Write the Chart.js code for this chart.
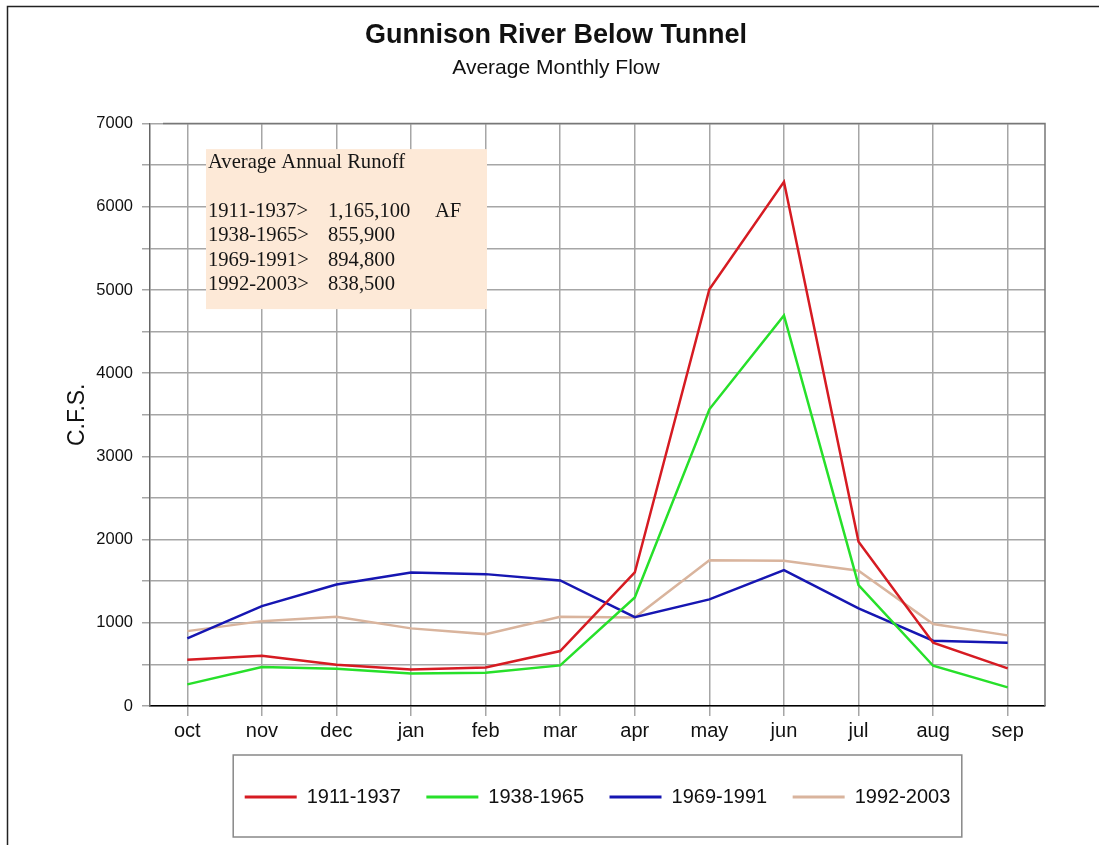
<!DOCTYPE html>
<html>
<head>
<meta charset="utf-8">
<title>Gunnison River Below Tunnel</title>
<script src="https://cdn.jsdelivr.net/npm/chart.js@4.4.1/dist/chart.umd.min.js"></script>
<style>
    html, body { margin: 0; padding: 0; background: #fff; }
    canvas { display: block; }
</style>
</head>
<body>
<canvas id="flowChart" width="1099" height="845"></canvas>
<script>
const MONTHS = ['oct', 'nov', 'dec', 'jan', 'feb', 'mar', 'apr', 'may', 'jun', 'jul', 'aug', 'sep'];

// average monthly flow, c.f.s.
const FLOW_1911_1937 = [556, 604, 496, 440, 464, 660, 1605, 5010, 6300, 1973, 760, 452];
const FLOW_1938_1965 = [260, 468, 448, 392, 400, 488, 1305, 3566, 4694, 1453, 484, 224];
const FLOW_1969_1991 = [813, 1200, 1461, 1605, 1585, 1509, 1068, 1281, 1633, 1173, 784, 760];
const FLOW_1992_2003 = [900, 1020, 1072, 933, 864, 1072, 1065, 1753, 1745, 1625, 985, 849];

const PERIODS = ['1911-1937', '1938-1965', '1969-1991', '1992-2003'];
const COLORS = ['#d61b22', '#27e02a', '#1616b2', '#d9b49d'];

// text box: average annual runoff
const RUNOFF_HEADING = 'Average Annual Runoff';
const RUNOFF_VALUES = ['1,165,100', '855,900', '894,800', '838,500'];
const RUNOFF_UNIT = 'AF';

const SANS = 'Arial, "Liberation Sans", sans-serif';
const SERIF = '"Times New Roman", "Liberation Serif", serif';

// peach box with the runoff figures, drawn under the lines
const runoffBox = {
    id: 'runoffBox',
    beforeDatasetsDraw(chart) {
        const { ctx, chartArea: a } = chart;
        const x = a.left + 56, y = a.top + 25.5;
        ctx.save();
        ctx.fillStyle = '#fde9d7';
        ctx.fillRect(x, y, 281, 160);
        ctx.fillStyle = '#151515';
        ctx.font = '20.6px ' + SERIF;
        ctx.textBaseline = 'middle';
        ctx.fillText(RUNOFF_HEADING, x + 2, y + 13.5);
        PERIODS.forEach((p, i) => {
            const ty = y + 62.5 + i * 24.4;
            ctx.fillText(p + '>', x + 2, ty);
            ctx.fillText(RUNOFF_VALUES[i], x + 122, ty);
        });
        ctx.fillText(RUNOFF_UNIT, x + 229, y + 62.5);
        ctx.restore();
    }
};

// top/right plot frame, legend box and outer border
const frame = {
    id: 'frame',
    afterLayout(chart) {
        // centre the legend under the plot area
        const lg = chart.legend;
        lg.left = chart.chartArea.left;
        lg.right = chart.chartArea.right;
    },
    afterDraw(chart) {
        const { ctx, chartArea: a, legend: lg } = chart;
        ctx.save();
        ctx.strokeStyle = '#777';
        ctx.lineWidth = 1.5;
        ctx.beginPath();
        ctx.moveTo(a.left + 13, a.top);
        ctx.lineTo(a.right, a.top);
        ctx.lineTo(a.right, a.bottom);
        ctx.stroke();

        const pad = lg.options.labels.padding;
        const rowW = lg.lineWidths[0];
        const start = (lg.left + pad + lg.right - rowW) / 2;
        const end = start + rowW - pad;
        const cy = lg.top + pad + 10;
        ctx.strokeStyle = '#888';
        ctx.strokeRect(start - 11.5, cy - 42, end - start + 23, 82);

        ctx.strokeStyle = '#222';
        ctx.beginPath();
        ctx.moveTo(7.5, chart.height);
        ctx.lineTo(7.5, 6.5);
        ctx.lineTo(chart.width, 6.5);
        ctx.stroke();
        ctx.restore();
    }
};

const series = [FLOW_1911_1937, FLOW_1938_1965, FLOW_1969_1991, FLOW_1992_2003];

new Chart(document.getElementById('flowChart'), {
    type: 'line',
    data: {
        labels: MONTHS,
        datasets: series.map((values, i) => ({
            label: PERIODS[i],
            data: values,
            borderColor: COLORS[i],
            backgroundColor: COLORS[i],
            borderWidth: 2.5,
            tension: 0,
            pointRadius: 0,
            fill: false
        }))
    },
    options: {
        responsive: false,
        animation: false,
        layout: { padding: { left: 67, right: 54, top: 0, bottom: 28 } },
        plugins: {
            title: {
                display: true,
                text: 'Gunnison River Below Tunnel',
                color: '#111',
                font: { family: SANS, size: 27, weight: 'bold' },
                padding: { top: 19.8, bottom: 0 }
            },
            subtitle: {
                display: true,
                text: 'Average Monthly Flow',
                color: '#111',
                font: { family: SANS, size: 21 },
                padding: { top: 3.8, bottom: 42.4 }
            },
            legend: {
                position: 'bottom',
                labels: {
                    color: '#111',
                    font: { family: SANS, size: 20 },
                    boxWidth: 52,
                    boxHeight: 3,
                    padding: 25.5,
                    generateLabels(chart) {
                        return Chart.defaults.plugins.legend.labels.generateLabels(chart)
                            .map(item => ({ ...item, fillStyle: item.strokeStyle, lineWidth: 0 }));
                    }
                }
            },
            tooltip: { enabled: false }
        },
        scales: {
            x: {
                offset: true,
                grid: { offset: false, color: '#a6a6a6', lineWidth: 1.5, tickLength: 10 },
                border: { color: '#000', width: 1.5 },
                ticks: { color: '#111', font: { family: SANS, size: 20 }, padding: 3 },
                afterFit(scale) { scale.height = 55.5; }
            },
            y: {
                min: 0,
                max: 7000,
                grid: { color: '#a6a6a6', lineWidth: 1.5, tickLength: 8 },
                border: { color: '#666', width: 1.5 },
                ticks: {
                    stepSize: 500,
                    autoSkip: false,
                    color: '#111',
                    padding: 9,
                    font: { family: SANS, size: 16.5 },
                    callback: v => (v % 1000 === 0 ? v : '')
                },
                title: {
                    display: true,
                    text: 'C.F.S.',
                    color: '#111',
                    font: { family: SANS, size: 23, lineHeight: 0.9 },
                    padding: 0
                },
                afterFit(scale) { scale.width = 83; }
            }
        }
    },
    plugins: [runoffBox, frame]
});
</script>
</body>
</html>
